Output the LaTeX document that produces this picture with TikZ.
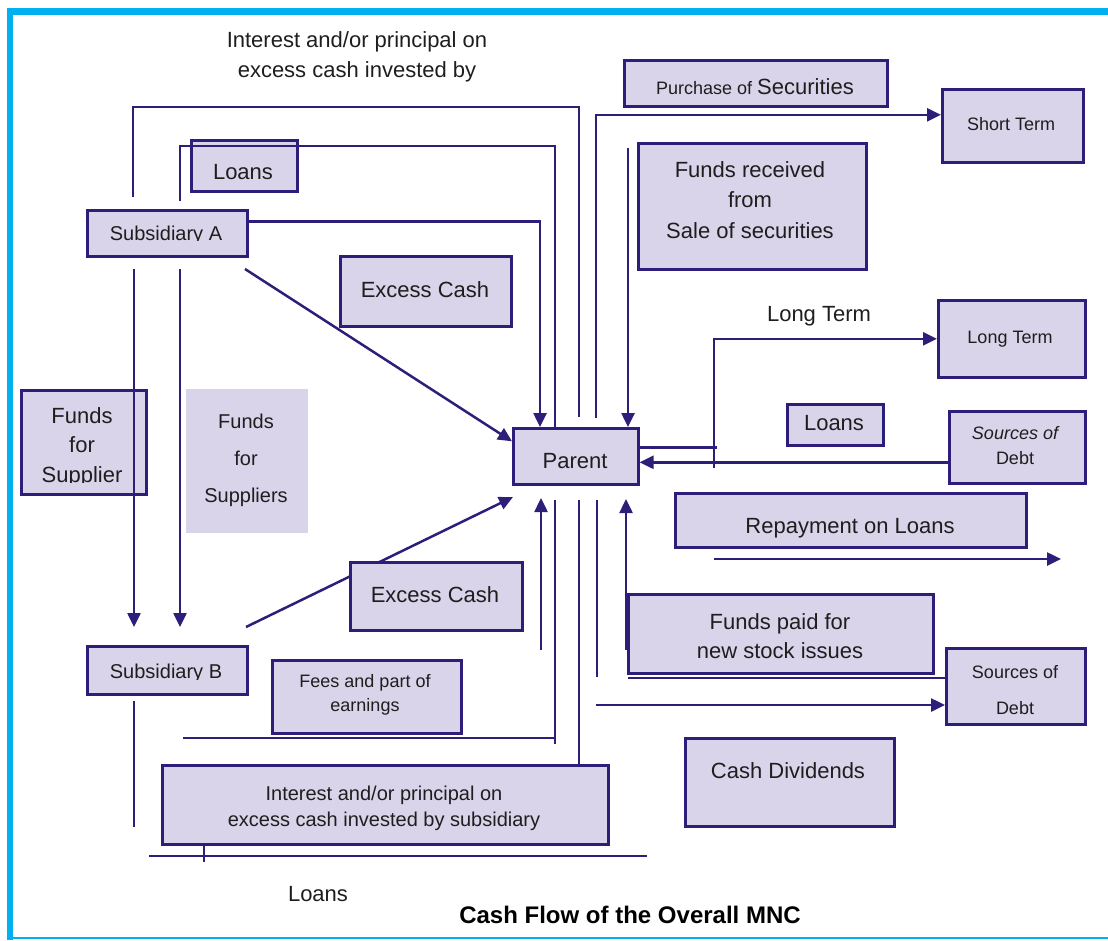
\documentclass[tikz,border=0pt]{standalone}
\usepackage{fontspec}
\setmainfont{Liberation Sans}
\usetikzlibrary{arrows.meta}
\definecolor{ln}{RGB}{46,30,122}
\definecolor{fl}{RGB}{217,212,233}
\definecolor{cy}{RGB}{0,176,240}
\definecolor{tx}{RGB}{30,30,30}
\pgfdeclarelayer{bg}
\pgfsetlayers{bg,main}
\newcommand\bx[6][box]{\node[#1, minimum width={#5-#3}, minimum height={#6-#4}] (#2) at (#3,#4) {};}
\begin{document}
\begin{tikzpicture}[x=1pt,y=-1pt,
  box/.style={draw=ln, fill=fl, line width=2.6pt, inner sep=0pt, anchor=north west},
  plain/.style={fill=fl, inner sep=0pt, anchor=north west},
  conn/.style={draw=ln, line width=2.5pt},
  arr/.style={conn, -{Triangle[length=14pt,width=13pt]}},
  t22/.style={font=\fontsize{22}{30}\selectfont, text=tx, inner sep=0pt, align=center},
  t20/.style={font=\fontsize{20}{26}\selectfont, text=tx, inner sep=0pt, align=center},
  t18/.style={font=\fontsize{18}{24}\selectfont, text=tx, inner sep=0pt, align=center}]
\useasboundingbox (0,0) rectangle (1108,940);
% frame
\fill[cy] (7,8) rectangle (1108,15);
\fill[cy] (7,8) rectangle (13,940);
\fill[cy] (13,936.5) rectangle (1108,939);

% boxes
\bx{loansA}{190}{139}{296}{190}
\bx{subA}{86}{209}{246}{255}
\bx{exc1}{339}{255}{510}{325}
\bx{ffs}{20}{389}{145}{493}
\bx[plain]{ffs2}{186}{389}{308}{533}
\bx{par}{512}{427}{637}{483}
\bx{exc2}{349}{561}{521}{629}
\bx{subB}{86}{645}{246}{693}
\bx{fees}{271}{659}{460}{732}
\bx{intb}{161}{764}{607}{843}
\bx{purch}{623}{59}{886}{105}
\bx{st}{941}{88}{1082}{161}
\bx{frs}{637}{142}{865}{268}
\bx{ltb}{937}{299}{1084}{376}
\bx{loansB}{786}{403}{882}{444}
\bx{sod1}{948}{410}{1084}{482}
\bx{rep}{674}{492}{1025}{546}
\bx{fp}{627}{593}{932}{672}
\bx{sod2}{945}{647}{1084}{723}
\bx{cd}{684}{737}{893}{825}

% texts
\node[t22] (ttop) at (357,57) {Interest and/or principal on\\excess cash invested by};
\begin{scope}
\clip (190,139) rectangle (296,180);
\node[t22, anchor=base] (tloansA) at (243,179) {Loans};
\end{scope}
\begin{scope}
\clip (86,209) rectangle (246,240.5);
\node[t20, anchor=base] (tsubA) at (166,240) {Subsidiary A};
\end{scope}
\node[t22, anchor=base] (texc1) at (425,297) {Excess Cash};
\begin{scope}
\clip (20,389) rectangle (145,482);
\node[t22, font=\fontsize{22}{29.5}\selectfont] (tffs) at (82,447) {Funds\\for\\Supplier};
\end{scope}
\node[t20, font=\fontsize{20}{37}\selectfont] (tffs2) at (246,460) {Funds\\for\\Suppliers};
\node[t22, anchor=base] (tpar) at (575,468) {Parent};
\node[t22, anchor=base] (texc2) at (435,602) {Excess Cash};
\begin{scope}
\clip (86,645) rectangle (246,679);
\node[t20, anchor=base] (tsubB) at (166,678) {Subsidiary B};
\end{scope}
\node[t18] (tfees) at (365,695) {Fees and part of\\earnings};
\node[t20] (tintb) at (384,808) {Interest and/or principal on\\excess cash invested by subsidiary};
\node[anchor=base, inner sep=0pt, text=tx] (tpurch) at (755,94) {{\fontsize{18}{22}\selectfont Purchase of }{\fontsize{22}{26}\selectfont Securities}};
\node[t18, anchor=base] (tst) at (1011,130) {Short Term};
\node[t22, font=\fontsize{22}{30.5}\selectfont] (tfrs) at (750,200) {Funds received\\from\\Sale of securities};
\node[t22, anchor=base] (tlt) at (819,321) {Long Term};
\node[t18, anchor=base] (tltb) at (1010,343) {Long Term};
\node[t22, anchor=base] (tloansB) at (834,430) {Loans};
\node[t18, font=\fontsize{18}{25}\selectfont] (tsod1) at (1015,446) {\itshape Sources of\\Debt};
\node[t22, anchor=base] (trep) at (850,533) {Repayment on Loans};
\node[t22, font=\fontsize{22}{29}\selectfont] (tfp) at (780,636) {Funds paid for\\new stock issues};
\node[t18, font=\fontsize{18}{36}\selectfont] (tsod2) at (1015,690) {Sources of\\Debt};
\node[t22, anchor=base] (tcd) at (788,778) {Cash Dividends};
\node[t22, anchor=base] (tloansC) at (318,901) {Loans};
\node[anchor=base, inner sep=0pt, text=black, font=\fontsize{24}{28}\selectfont\bfseries] (title) at (630,923) {Cash Flow of the Overall MNC};

% connectors
\coordinate (a1s) at (133,197); \coordinate (a1c) at (579,107); \coordinate (a1e) at (579,417);
\draw[conn] (a1s) |- (a1c) -- (a1e);
\coordinate (a2s) at (180,201); \coordinate (a2c) at (555,146);
\draw[conn] (a2s) |- (a2c) -- (a2c |- par.north);
\draw[arr] ([yshift=12pt]subA.east) -| ([xshift=28pt]par.north west);
\coordinate (a4s) at (245,269);
\draw[arr] (a4s) -- ([yshift=15pt]par.west);
\coordinate (a5s) at (246,627); \coordinate (a5e) at (513,497);
\begin{pgfonlayer}{bg}
\draw[arr] (a5s) -- (a5e);
\end{pgfonlayer}
\coordinate (a6s) at (134,269); \coordinate (a6e) at (134,627);
\draw[arr] (a6s) -- (a6e);
\coordinate (a7s) at (180,269); \coordinate (a7e) at (180,627);
\draw[arr] (a7s) -- (a7e);
\coordinate (a8s) at (134,701); \coordinate (a8e) at (134,827);
\draw[conn] (a8s) -- (a8e);
\coordinate (b1) at (183,738); \coordinate (b2) at (555,738); \coordinate (b3) at (555,500); \coordinate (b4) at (555,744);
\draw[conn] (b3) -- (b4);
\draw[conn] (b1) -- (b2);
\coordinate (a9s) at (579,500);
\draw[conn] (a9s) -- (a9s |- intb.north);
\coordinate (a10s) at (541,650); \coordinate (a10e) at (541,498);
\draw[arr] (a10s) -- (a10e);
\coordinate (a11s) at (597,500); \coordinate (a11e) at (597,677);
\draw[conn] (a11s) -- (a11e);
\coordinate (a12s) at (626,650); \coordinate (a12e) at (626,499);
\draw[arr] (a12s) -- (a12e);
\coordinate (a13) at (628,678);
\draw[conn] (a13) -- (a13 -| sod2.west);
\coordinate (a14) at (596,705);
\draw[arr] (a14) -- (a14 -| sod2.west);
\coordinate (a15s) at (149,856); \coordinate (a15e) at (647,856);
\draw[conn] (a15s) -- (a15e);
\coordinate (a16) at (204,862);
\draw[conn] (a16 |- intb.south) -- (a16);
\coordinate (a17) at (596,418);
\draw[arr] (a17) |- ([yshift=11pt]st.west);
\coordinate (a18) at (628,148);
\draw[arr] (a18) -- (a18 |- par.north);
\draw[conn] ([yshift=9pt]par.east) -- ++(77,0);
\coordinate (a19) at (714,468);
\draw[arr] (a19) |- (ltb.west);
\coordinate (a20) at ([yshift=-15pt]sod1.west);
\draw[arr] (a20) -- (a20 -| par.east);
\coordinate (a21s) at (714,559); \coordinate (a21e) at (1061,559);
\draw[arr] (a21s) -- (a21e);
\end{tikzpicture}
\end{document}
